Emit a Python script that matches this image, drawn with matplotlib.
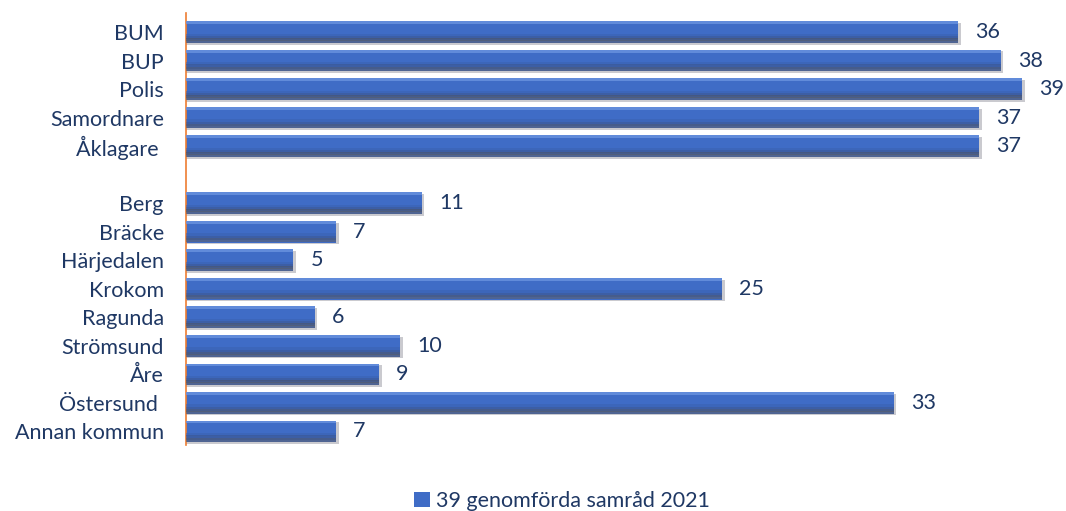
import matplotlib.pyplot as plt
import numpy as np

plt.rcParams['font.family'] = ['Lato', 'DejaVu Sans']

# samråd per part och per kommun
parter = ['BUM', 'BUP', 'Polis', 'Samordnare', 'Åklagare ']
parter_antal = [36, 38, 39, 37, 37]
kommuner = ['Berg', 'Bräcke', 'Härjedalen', 'Krokom', 'Ragunda', 'Strömsund',
            'Åre', 'Östersund ', 'Annan kommun']
kommuner_antal = [11, 7, 5, 25, 6, 10, 9, 33, 7]
serie = '39 genomförda samråd 2021'

textfarg = '#1f3864'
blue = '#3f6cc6'

labels = parter + kommuner
values = np.array(parter_antal + kommuner_antal)
# en tom rad mellan grupperna
ypos = np.array(list(range(len(parter))) +
                [len(parter) + 1 + i for i in range(len(kommuner))])

fig = plt.figure(figsize=(10.66, 5.11), dpi=100)
ax = fig.add_axes([0.1745, 0.129, 0.8255, 0.8456])

h = 0.76
# mjuk skugga
ax.barh(ypos + 0.06, values + 0.12, height=h, color='#8a8a95', alpha=0.45, zorder=1)
bars = ax.barh(ypos, values, height=h, color=blue, zorder=2, label=serie)
# toning: ljus överkant, mörkare gråblå underkant
ax.barh(ypos - h / 2 + 0.05, values, height=0.1, color='#6a93e0', alpha=0.8, zorder=3)
bands = [(0.10, '#3a62b0', 0.5), (0.18, '#3b5690', 0.6), (0.26, '#4a5672', 0.7),
         (0.33, '#5a6070', 0.6)]
for off, c, a in bands:
    ax.barh(ypos + off, values, height=0.09, color=c, alpha=a, zorder=3, linewidth=0)

for y, v in zip(ypos, values):
    ax.text(v + 0.8, y, str(v), va='center', ha='left', fontsize=15.5, color=textfarg)

ax.set_yticks(ypos)
ax.set_yticklabels(labels, fontsize=15.5, color=textfarg)
ax.tick_params(axis='y', length=0, pad=16)
ax.set_ylim(14.48, -0.67)
ax.set_xlim(0, 41.04)
ax.set_xticks([])

for s in ['top', 'right', 'bottom']:
    ax.spines[s].set_visible(False)
ax.spines['left'].set_color('#ed7d31')
ax.spines['left'].set_linewidth(1.2)

fig.legend(handles=[bars], labels=[serie], loc='lower center',
           bbox_to_anchor=(0.527, -0.038), frameon=False, fontsize=15.5,
           handlelength=0.75, handleheight=0.75, handletextpad=0.3,
           labelcolor=textfarg)

fig.savefig('out.png', dpi=100)
